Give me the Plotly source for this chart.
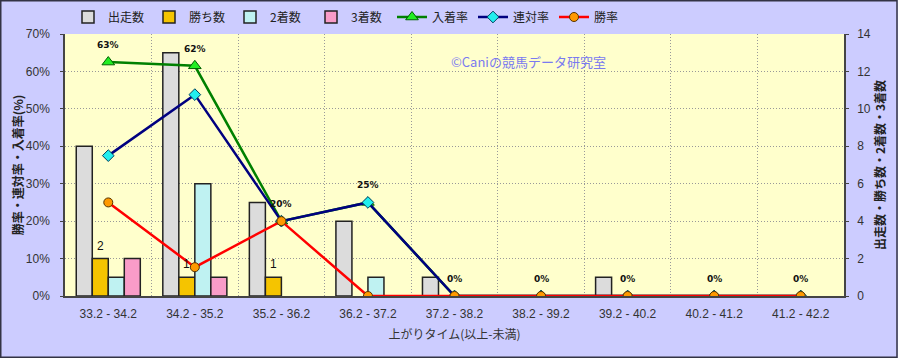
import plotly.graph_objects as go

categories = ["33.2 - 34.2", "34.2 - 35.2", "35.2 - 36.2", "36.2 - 37.2", "37.2 - 38.2",
              "38.2 - 39.2", "39.2 - 40.2", "40.2 - 41.2", "41.2 - 42.2"]
runs = [8, 13, 5, 4, 1, 0, 1, 0, 0]
wins = [2, 1, 1, 0, 0, 0, 0, 0, 0]
seconds = [1, 6, 0, 1, 0, 0, 0, 0, 0]
thirds = [2, 1, 0, 0, 0, 0, 0, 0, 0]
place_rate = [62.5, 61.5, 20.0, 25.0, 0, 0, 0, 0, 0]
rentai_rate = [37.5, 53.8, 20.0, 25.0, 0, 0, 0, 0, 0]
win_rate = [25.0, 7.7, 20.0, 0, 0, 0, 0, 0, 0]
place_labels = ["63%", "62%", "20%", "25%", "0%", "0%", "0%", "0%", "0%"]

W, H = 898, 358
L, R, T, B = 65, 54, 34, 62
PW, PH = W - L - R, H - T - B
BARGAP = 0.26
FONT = "Liberation Sans, Noto Sans CJK JP, sans-serif"
JP = "Noto Sans CJK JP, sans-serif"
GRID_DASH = "1px,2px"

x = list(range(len(categories)))
fig = go.Figure()

bar_specs = [("出走数", runs, "#DCDCDC"), ("勝ち数", wins, "#F5C400"),
             ("2着数", seconds, "#BFF2F2"), ("3着数", thirds, "#F99CC8")]
for name, vals, col in bar_specs:
    fig.add_trace(go.Bar(x=x, y=[v if v else None for v in vals], name=name, yaxis="y",
                         marker=dict(color=col, line=dict(color="#222222", width=1.5))))

fig.add_trace(go.Scatter(x=x, y=place_rate, name="入着率", yaxis="y2", mode="lines+markers",
                         line=dict(color="#008000", width=2.5),
                         marker=dict(symbol="triangle-up", size=11, color="#22EE22",
                                     line=dict(color="#006000", width=1))))
fig.add_trace(go.Scatter(x=x, y=rentai_rate, name="連対率", yaxis="y2", mode="lines+markers",
                         line=dict(color="#000080", width=2.5),
                         marker=dict(symbol="diamond", size=9, color="#22EEEE",
                                     line=dict(color="#004060", width=1))))
fig.add_trace(go.Scatter(x=x, y=win_rate, name="勝率", yaxis="y2", mode="lines+markers",
                         line=dict(color="#FF0000", width=2.5),
                         marker=dict(symbol="circle", size=9, color="#FF9900",
                                     line=dict(color="#553300", width=1))))

annotations = []
for i, lab in enumerate(place_labels):
    annotations.append(dict(x=i, y=place_rate[i], xref="x", yref="y2", text=lab, showarrow=False,
                            yshift=17, font=dict(family="DejaVu Sans", size=9, color="#111111",
                                                 weight="bold")))
bw = (1 - BARGAP) / 4
for i, v in enumerate(wins):
    if v:
        annotations.append(dict(x=i - bw / 2, y=v, xref="x", yref="y", text=str(v), showarrow=False,
                                yshift=13, font=dict(family=FONT, size=12, color="#111111")))
annotations.append(dict(x=(528 - L) / PW, y=(296 - 50) / PH, xref="paper", yref="paper",
                        text="©Caniの競馬データ研究室", showarrow=False,
                        font=dict(family=JP, size=13, color="#7A7AF0")))

fig.update_layout(
    width=W, height=H,
    margin=dict(l=L, r=R, t=T, b=B, autoexpand=False),
    paper_bgcolor="#CCCCFF", plot_bgcolor="#FFFFCC",
    barmode="group", bargap=BARGAP, bargroupgap=0,
    font=dict(family=FONT, size=12, color="#333333"),
    showlegend=True,
    legend=dict(orientation="h", x=(68 - L) / PW, xanchor="left", y=1 + (T - 17) / PH,
                yanchor="middle", bgcolor="rgba(0,0,0,0)", font=dict(family=JP, size=12, color="#222222"),
                itemwidth=30, entrywidth=36, entrywidthmode="pixels", tracegroupgap=0),
    annotations=annotations,
    xaxis=dict(range=[-0.5, len(categories) - 0.5], tickmode="array", tickvals=x, ticktext=categories,
               showgrid=False, zeroline=False, showline=True, linecolor="#444444", linewidth=1.5,
               ticks="", ticklabelstandoff=6, tickfont=dict(size=12, color="#333333"),
               minor=dict(tick0=0.5, dtick=1, showgrid=True, gridcolor="#999999", griddash=GRID_DASH,
                          gridwidth=1),
               title=dict(text="上がりタイム(以上-未満)", standoff=10,
                          font=dict(family=JP, size=12, color="#333333"))),
    yaxis=dict(range=[0, 14], dtick=2, side="right", showgrid=False, zeroline=False,
               showline=True, linecolor="#444444", linewidth=1.5, ticks="outside", ticklen=3,
               tickcolor="#444444", ticklabelstandoff=6, tickfont=dict(size=12, color="#333333"),
               title=dict(text="出走数・勝ち数・2着数・3着数", standoff=3,
                          font=dict(family=JP, size=12, color="#222222", weight="bold"))),
    yaxis2=dict(range=[0, 70], dtick=10, ticksuffix="%", side="left", overlaying="y",
                showgrid=True, gridcolor="#999999", griddash=GRID_DASH, gridwidth=1, zeroline=False,
                showline=True, linecolor="#444444", linewidth=1.5, ticks="outside", ticklen=3,
                tickcolor="#444444", ticklabelstandoff=8, tickfont=dict(size=12, color="#333333"),
                title=dict(text="勝率・連対率・入着率(%)", standoff=0,
                           font=dict(family=JP, size=12, color="#222222", weight="bold"))),
    shapes=[dict(type="rect", xref="paper", yref="paper",
                 x0=(0.75 - L) / PW, x1=(897 - L) / PW,
                 y0=(296 - 357.25) / PH, y1=(296 - 0.75) / PH,
                 line=dict(color="#333344", width=1.5), layer="above")],
)

fig.write_html("out.html")
